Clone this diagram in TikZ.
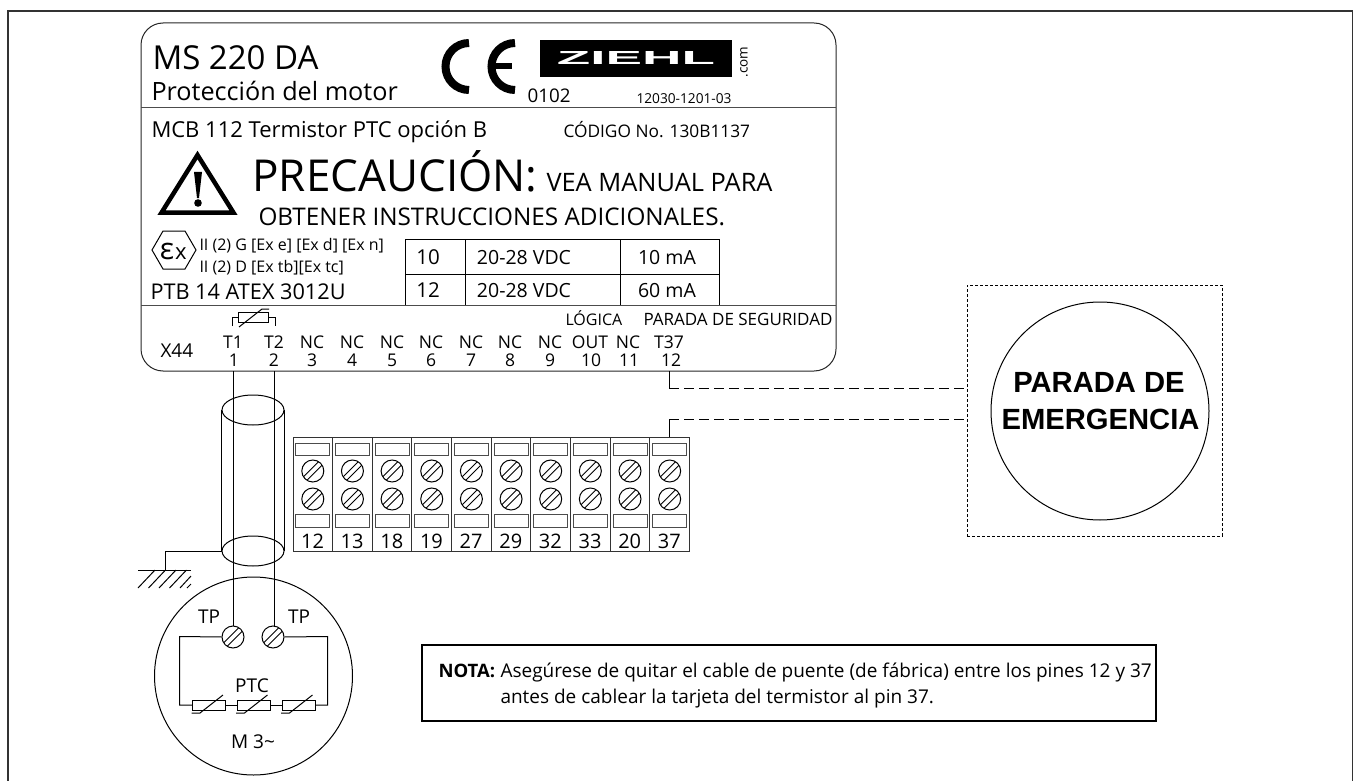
\documentclass[tikz,border=0pt]{standalone}
\usepackage{graphicx}
\usepackage{fontspec}
\setmainfont{Open Sans}
\newfontfamily\arialfont{Liberation Sans}
\usetikzlibrary{shapes,calc}
\newcommand{\fsz}[1]{\fontsize{#1}{#1}\selectfont}
\tikzset{
	lbl/.style={anchor=base west,inner sep=0pt},
	clbl/.style={anchor=base,inner sep=0pt},
	screw/.style={circle,draw,inner sep=0pt,minimum size=22pt,line width=1pt,
		path picture={\draw [line width=.9pt,shift={(path picture bounding box.center)}]
			(-9.3,5.8) -- (5.8,-9.3) (-5.8,9.3) -- (9.3,-5.8);}},
	ptcbox/.style={draw,inner sep=0pt,minimum width=33pt,minimum height=10pt},
	tab/.style={draw,black!70,inner sep=0pt,minimum width=34pt,minimum height=12.5pt,line width=1pt}
}

\begin{document}
\begin{tikzpicture}[x=1pt,y=-1pt,line width=1pt]
  \useasboundingbox (0,0) rectangle (1355,781);
  % Frame
  \draw [line width=1.6pt,black!80] (8,781) -- (8,11) -- (1352.5,11) -- (1352.5,781);

  % Rating plate
  \draw [rounded corners=22pt,black!85] (141,23) rectangle (836,371);
  \draw [black!70] (141,108) to (836,108);
  \draw [black!70] (141,305) to (836,305);
  \node (Model) [lbl,font=\fsz{33}] at (152,70) {MS 220 DA};
  \node (Prot) [lbl,font=\fsz{25.2}] at (151,101) {Protección del motor};
  \draw [line width=8pt] (469,90) arc [start angle=90,end angle=270,radius=23.5];
  \draw [line width=8pt] (515,90) arc [start angle=90,end angle=270,radius=23.5];
  \draw [line width=6pt] (491,66.5) to (512,66.5);
  \node (Ziehl) [fill=black,text=white,inner sep=0pt,minimum width=192pt,minimum height=37pt] at (636,58.5)
    {\resizebox{158pt}{13pt}{\arialfont\bfseries ZIEHL}};
  \node (Com) [rotate=90,inner sep=0pt,font=\fsz{13.5}] at (744,62) {.com};
  \node (Cert) [lbl,font=\fsz{18.8}] at (527,103) {0102};
  \node (Part) [lbl,font=\fsz{13.7}] at (636,104) {12030-1201-03};
  \node (Mcb) [lbl,font=\fsz{22}] at (151,138) {MCB 112 Termistor PTC opción B};
  \node (Code) [lbl,font=\fsz{17.3}] at (563,138) {CÓDIGO No. 130B1137};

  % Warning
  \draw [line width=4.5pt,miter limit=10] (197.5,155) -- (233.5,212.7) -- (161.5,212.7) -- cycle;
  \fill (194,172) -- (202,172) -- (199,198) -- (197,198) -- cycle;
  \fill (198,203) circle [radius=3.8];
  \node (Prec) [lbl,font=\fsz{44}] at (252,192) {PRECAUCIÓN:};
  \node (Vea) [lbl,font=\fsz{25.4}] at (546,192) {VEA MANUAL PARA};
  \node (Obt) [lbl,font=\fsz{24.3}] at (258,225) {OBTENER INSTRUCCIONES ADICIONALES.};

  % Ex mark
  \draw (152,250) -- (163,231) -- (185,231) -- (196,250) -- (185,269) -- (163,269) -- cycle;
  \node (ExE) [clbl,font=\fsz{30}] at (167,259) {ε};
  \node (ExX) [clbl,font=\fsz{22}] at (181,259) {x};
  \node (ExG) [lbl,font=\fsz{16}] at (199,250) {II (2) G [Ex e] [Ex d] [Ex n]};
  \node (ExD) [lbl,font=\fsz{16}] at (199,272) {II (2) D [Ex tb][Ex tc]};
  \node (Ptb) [lbl,font=\fsz{21.7}] at (150,299) {PTB 14 ATEX 3012U};

  % Ratings
  \draw (405,305) -- (405,239) -- (719,239) -- (719,305);
  \draw (405,274) to (719,274);
  \draw (465,239) to (465,305);
  \draw (620,239) to (620,305);
  \node (A10) [clbl,font=\fsz{20.5}] at (428,264) {10};
  \node (A12) [clbl,font=\fsz{20.5}] at (428,297) {12};
  \node (B10) [clbl,font=\fsz{19.5}] at (524,264) {20-28 VDC};
  \node (B12) [clbl,font=\fsz{19.5}] at (524,297) {20-28 VDC};
  \node (C10) [clbl,font=\fsz{19.5}] at (667,264) {10 mA};
  \node (C12) [clbl,font=\fsz{19.5}] at (667,297) {60 mA};

  % Terminal row
  \node (Logic) [lbl,font=\fsz{16}] at (565,325) {LÓGICA};
  \node (Safe) [lbl,font=\fsz{17}] at (643,325) {PARADA DE SEGURIDAD};
  \node (X44) [lbl,font=\fsz{19}] at (160,357) {X44};
  \foreach \xa/\xb/\ta/\tb [count=\c] in {233/234/T1/1,274/274/T2/2,312/312/NC/3,352/352/NC/4,392/392/NC/5,
    431/431/NC/6,471/471/NC/7,510/510/NC/8,550/550/NC/9,590/591/OUT/10,628/629/NC/11,669/671/T37/12}{
    \node (Ta\c) [clbl,font=\fsz{17.5}] at (\xa,348) {\ta};
    \node (Tb\c) [clbl,font=\fsz{17.5}] at (\xb,366) {\tb};
  }
  \draw (232,326) -- (232,317) -- (238,317);
  \draw (268,317) -- (275,317) -- (275,326);
  \draw (238,312) rectangle (268,322);
  \draw (239,327) -- (262,309) -- (269,309);

  % Cable
  \coordinate (P1) at (233.5,371);
  \coordinate (P2) at (274,371);
  \node (CapTop) [ellipse,draw,inner sep=0pt,minimum width=62pt,minimum height=30pt] at (253,410) {};
  \node (CapBot) [ellipse,draw,inner sep=0pt,minimum width=62pt,minimum height=30pt] at (253,551) {};
  \draw (CapTop.west) to (CapBot.west);
  \draw (CapTop.east) to (CapBot.east);
  \coordinate (Gnd) at (165,570);
  \draw (CapBot.west) -| (Gnd);
  \draw (138,570) to (191,570);
  \foreach \h in {138,148.5,159,169.5}
    \draw (\h,588) -- ++(17,-18);
  \draw (180,588) -- ++(11,-12);
  \draw (187,588) -- ++(4,-4);

  % Motor
  \node (Motor) [circle,draw,inner sep=0pt,minimum size=198pt] at (253.5,676) {};
  \node (TpA) [screw] at (233,637) {};
  \node (TpB) [screw] at (273,637) {};
  \draw (P1) to (P1|-TpA.north);
  \draw (P2) to (P2|-TpB.north);
  \node (TpLa) [clbl,font=\fsz{19}] at (209,623) {TP};
  \node (TpLb) [clbl,font=\fsz{19}] at (299,623) {TP};
  \node (Ptc) [clbl,font=\fsz{19}] at (252,692) {PTC};
  \node (M3) [clbl,font=\fsz{19}] at (253,748) {M 3\char`\~};
  \node (Ra) [ptcbox] at (209,705) {};
  \node (Rb) [ptcbox] at (253.5,705) {};
  \node (Rc) [ptcbox] at (298.5,705) {};
  \draw (TpA.west) -- (179.5,636.5) -- (179.5,705) -- (Ra.west);
  \draw (TpB.east) -- (327.5,636.5) -- (327.5,705) -- (Rc.east);
  \draw (Ra) to (Rb);
  \draw (Rb) to (Rc);
  \foreach \r in {Ra,Rb,Rc}
    \draw ([shift={(-17.5,8)}]\r.center) -- ([shift={(-9,8)}]\r.center) -- ([shift={(14,-10)}]\r.center);

  % Terminal block
  \foreach \n [count=\c from 0] in {12,13,18,19,27,29,32,33,20,37}{
    \pgfmathsetmacro{\xc}{293+39.65*\c}
    \draw [black!80] (\xc,437) rectangle (\xc+39.65,551);
    \node (TopTab\n) [tab] at (\xc+19.8,449.5) {};
    \node (BotTab\n) [tab] at (\xc+19.8,521) {};
    \node (ScA\n) [screw] at (\xc+19.8,471) {};
    \node (ScB\n) [screw] at (\xc+19.8,499) {};
    \node (Num\n) [clbl,font=\fsz{20}] at (\xc+19.5,548) {\n};
  }

  % Emergency stop
  \node (StopBox) [draw,dash pattern=on 3pt off 2pt,inner sep=0pt,minimum width=255pt,minimum height=251pt] at (1094.5,410.5) {};
  \node (Stop) [circle,draw,inner sep=0pt,minimum size=218pt] at (1100,411) {};
  \node (StopA) [clbl,font=\arialfont\bfseries\fsz{29.2}] at (1099,392) {PARADA DE};
  \node (StopB) [clbl,font=\arialfont\bfseries\fsz{29.2}] at (1100.5,429) {EMERGENCIA};
  \coordinate (P12) at (669,371);
  \coordinate (K1) at (669,388);
  \coordinate (K2) at (669,419.5);
  \coordinate (B37) at (669,437);
  \draw (P12) to (K1);
  \draw (B37) to (K2);
  \draw [dash pattern=on 10pt off 5pt] (K1) to (K1-|StopBox.west);
  \draw [dash pattern=on 10pt off 5pt] (K2) to (K2-|StopBox.west);

  % Note
  \node (NoteBox) [draw,line width=1.5pt,inner sep=0pt,minimum width=734pt,minimum height=76pt] at (789,683) {};
  \node (NoteA) [lbl,font=\bfseries\fsz{18.5}] at (438,677) {NOTA:};
  \node (NoteB) [lbl,font=\fsz{19}] at (500,677) {Asegúrese de quitar el cable de puente (de fábrica) entre los pines 12 y 37};
  \node (NoteC) [lbl,font=\fsz{19}] at (500,703) {antes de cablear la tarjeta del termistor al pin 37.};
\end{tikzpicture}
\end{document}
